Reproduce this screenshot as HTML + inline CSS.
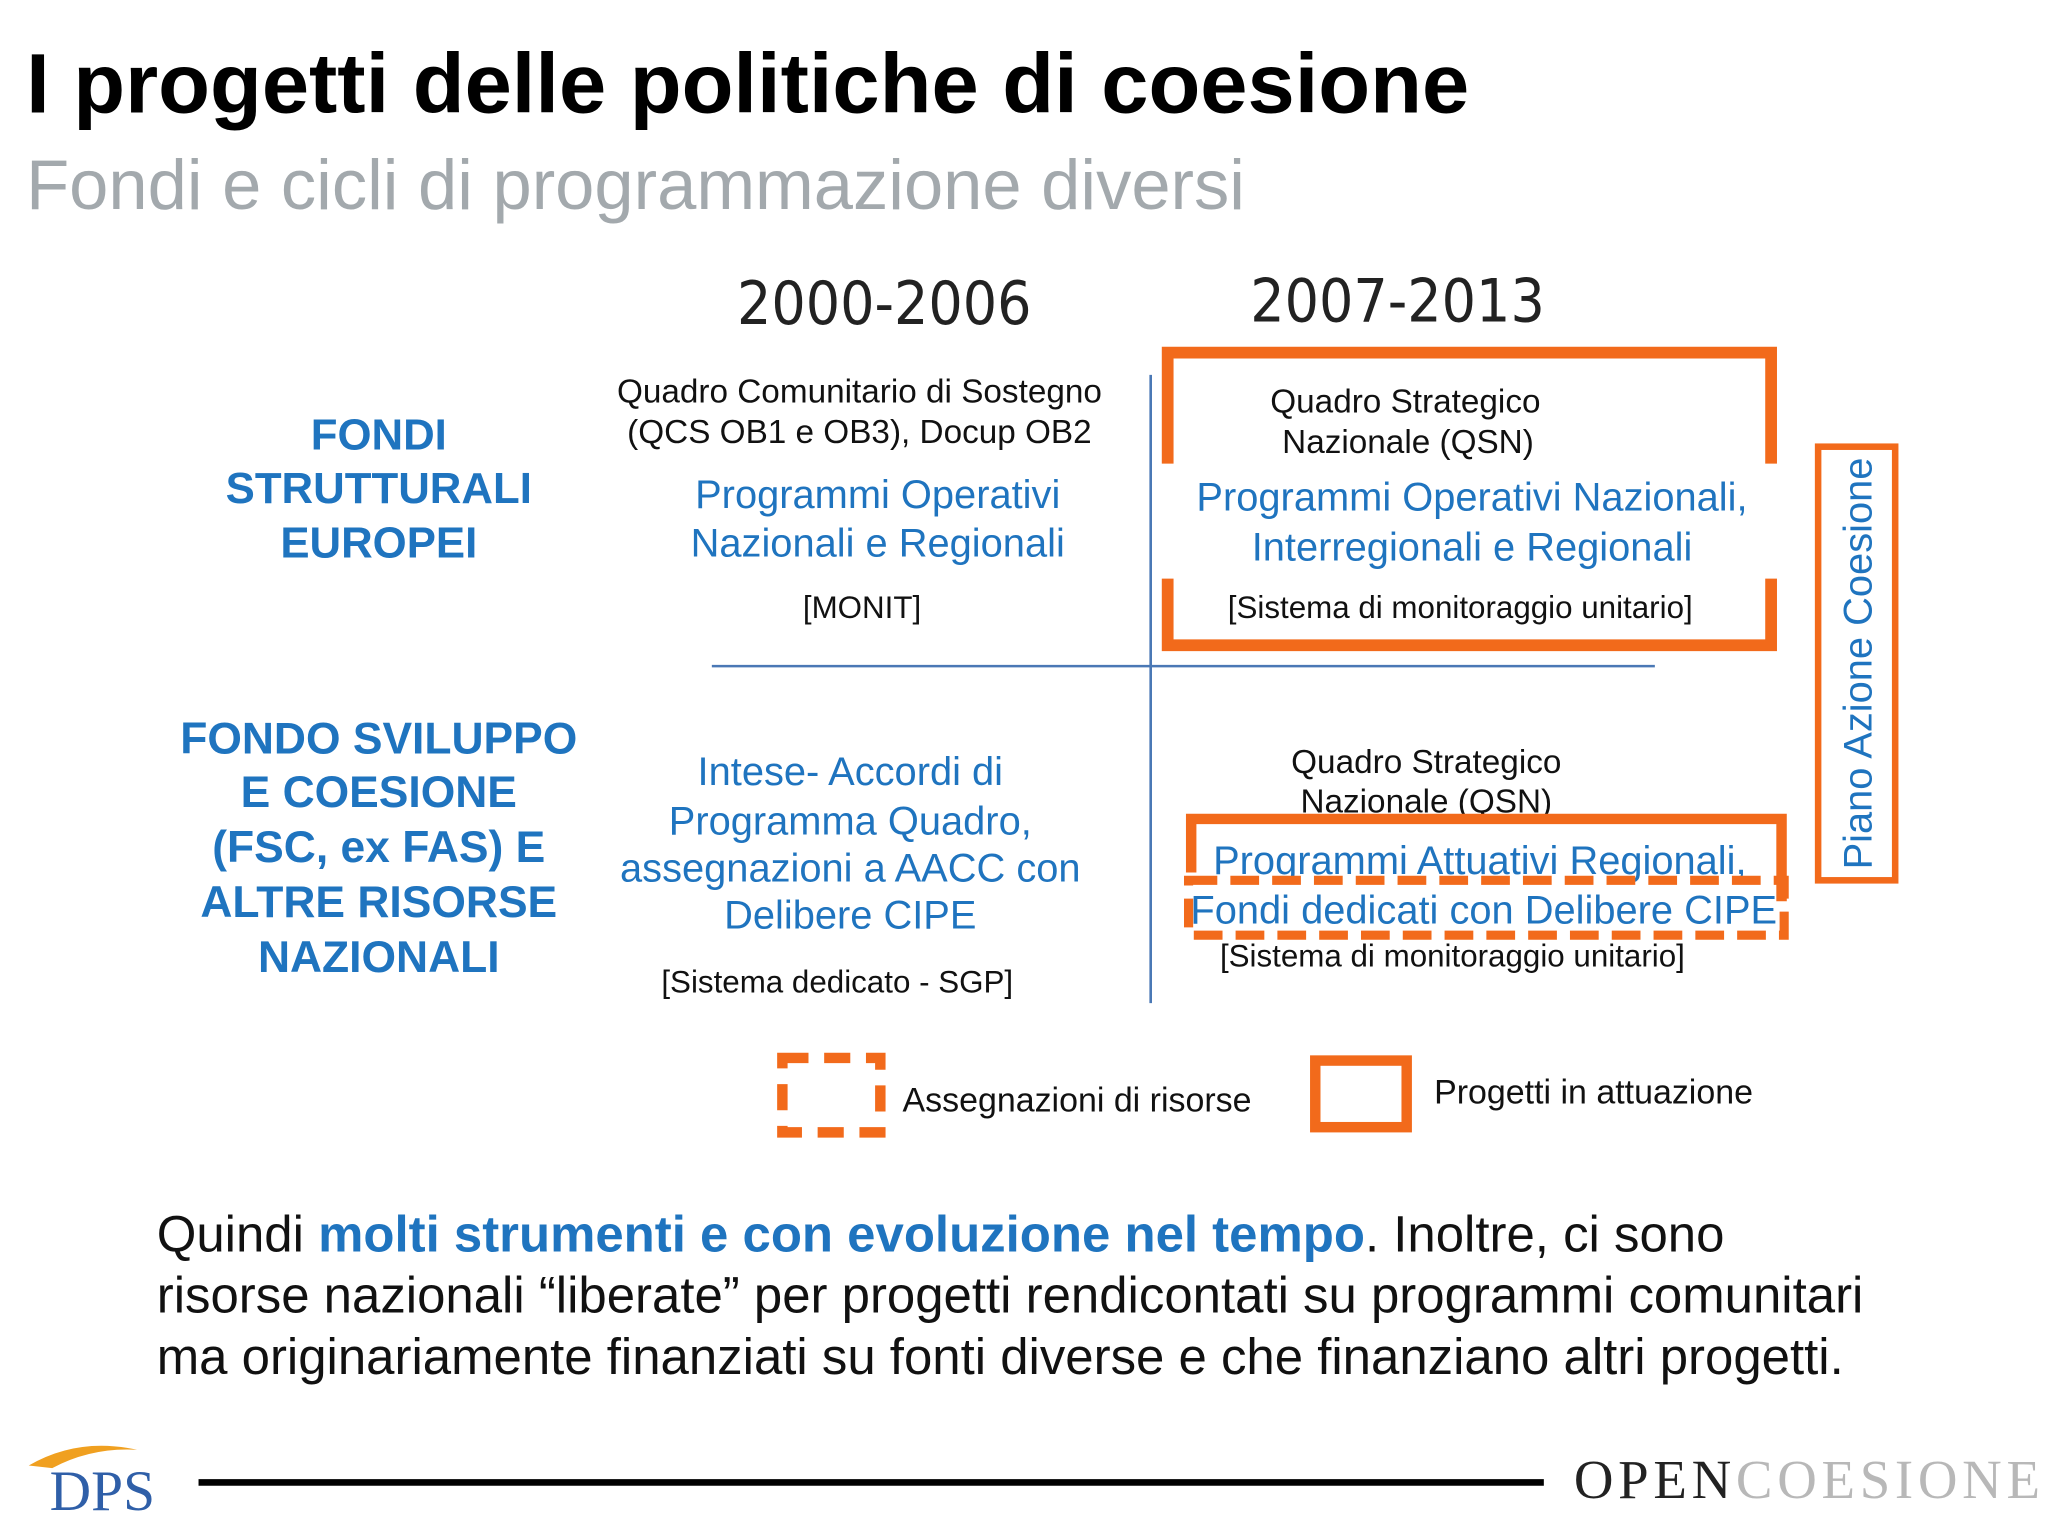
<!DOCTYPE html>
<html><head><meta charset="utf-8"><style>
html,body{margin:0;padding:0;background:#fff;}
svg{display:block;font-family:"Liberation Sans",sans-serif;}
</style></head><body>
<svg width="2048" height="1536" viewBox="0 0 1568 1176">
<text x="20" y="86" font-size="65" font-weight="bold" fill="#000">I progetti delle politiche di coesione</text>
<text x="20" y="160" font-size="54" fill="#a3a9ad">Fondi e cicli di programmazione diversi</text>

<g font-family="DejaVu Sans Condensed, DejaVu Sans, sans-serif" font-size="46" fill="#222" text-anchor="middle">
<text x="677" y="248">2000-2006</text>
<text x="1070" y="246">2007-2013</text>
</g>

<g font-size="33.5" font-weight="bold" fill="#1f74bf" text-anchor="middle">
<text x="290" y="344">FONDI</text><text x="290" y="385">STRUTTURALI</text><text x="290" y="427">EUROPEI</text>
</g>
<g font-size="34" font-weight="bold" fill="#1f74bf" text-anchor="middle">
<text x="290" y="577">FONDO SVILUPPO</text><text x="290" y="618">E COESIONE</text><text x="290" y="660">(FSC, ex FAS) E</text><text x="290" y="702">ALTRE RISORSE</text><text x="290" y="744">NAZIONALI</text>
</g>

<line x1="881" y1="287" x2="881" y2="768" stroke="#4a78b5" stroke-width="2"/>
<line x1="545" y1="510" x2="1267" y2="510" stroke="#4a78b5" stroke-width="2"/>

<g text-anchor="middle">
<text x="658" y="308" font-size="25.5" fill="#111">Quadro Comunitario di Sostegno</text>
<text x="658" y="339" font-size="25.5" fill="#111">(QCS OB1 e OB3), Docup OB2</text>
<text x="672" y="389" font-size="30.5" fill="#1f74bf">Programmi Operativi</text>
<text x="672" y="426" font-size="30.5" fill="#1f74bf">Nazionali e Regionali</text>
<text x="660" y="473" font-size="24" fill="#111">[MONIT]</text>
</g>
<g text-anchor="middle">
<text x="1076" y="316" font-size="25.5" fill="#111">Quadro Strategico</text>
<text x="1078" y="347" font-size="25.5" fill="#111">Nazionale (QSN)</text>
<text x="1127" y="391" font-size="30.5" fill="#1f74bf">Programmi Operativi Nazionali,</text>
<text x="1127" y="429" font-size="30.5" fill="#1f74bf">Interregionali e Regionali</text>
<text x="1118" y="473" font-size="24" fill="#111">[Sistema di monitoraggio unitario]</text>
</g>
<path d="M894 355 V270 H1356 V355 M894 443 V494 H1356 V443" fill="none" stroke="#f26a1b" stroke-width="9"/>

<g text-anchor="middle">
<text x="651" y="601" font-size="30.5" fill="#1f74bf">Intese- Accordi di</text>
<text x="651" y="639" font-size="30.5" fill="#1f74bf">Programma Quadro,</text>
<text x="651" y="675" font-size="30.5" fill="#1f74bf">assegnazioni a AACC con</text>
<text x="651" y="711" font-size="30.5" fill="#1f74bf">Delibere CIPE</text>
<text x="641" y="760" font-size="24" fill="#111">[Sistema dedicato - SGP]</text>
</g>
<g text-anchor="middle">
<text x="1092" y="592" font-size="25.5" fill="#111">Quadro Strategico</text>
<text x="1092" y="622" font-size="25.5" fill="#111">Nazionale (QSN)</text>
<rect x="905" y="624" width="466" height="10" fill="#fff"/>
<text x="1133" y="669" font-size="30.5" fill="#1f74bf">Programmi Attuativi Regionali,</text>
<text x="1136" y="707" font-size="30.5" fill="#1f74bf">Fondi dedicati con Delibere CIPE</text>
<text x="1112" y="740" font-size="24" fill="#111">[Sistema di monitoraggio unitario]</text>
</g>
<path d="M912 668 V627 H1364 V690" fill="none" stroke="#f26a1b" stroke-width="8"/>
<path d="M910 674 H1366 V716 H910 Z" fill="none" stroke="#f26a1b" stroke-width="7" stroke-dasharray="22 10"/>

<rect x="1392" y="342" width="59" height="332" fill="none" stroke="#f26a1b" stroke-width="5"/>
<text transform="translate(1433 508) rotate(-90)" text-anchor="middle" font-size="30.5" fill="#1f74bf">Piano Azione Coesione</text>

<rect x="599" y="810" width="75" height="57" fill="none" stroke="#f26a1b" stroke-width="8" stroke-dasharray="20 12"/>
<text x="691" y="851" font-size="26" fill="#111">Assegnazioni di risorse</text>
<rect x="1007" y="812" width="70" height="51" fill="none" stroke="#f26a1b" stroke-width="8"/>
<text x="1098" y="845" font-size="26" fill="#111">Progetti in attuazione</text>

<g font-size="39" fill="#111">
<text x="120" y="958">Quindi <tspan fill="#1f74bf" font-weight="bold">molti strumenti e con evoluzione nel tempo</tspan>. Inoltre, ci sono</text>
<text x="120" y="1005">risorse nazionali “liberate” per progetti rendicontati su programmi comunitari</text>
<text x="120" y="1052">ma originariamente finanziati su fonti diverse e che finanziano altri progetti.</text>
</g>

<line x1="152" y1="1135" x2="1182" y2="1135" stroke="#000" stroke-width="5"/>
<g>
<path d="M22 1122 Q60 1100 105 1110 Q70 1108 40 1124 Z" fill="#f0a020"/>
<text x="38" y="1156" font-family="Liberation Serif,serif" font-size="44" fill="#2f5fa8">DPS</text>
</g>
<text x="1205" y="1147" font-family="Liberation Serif,serif" font-size="42" letter-spacing="3.6"><tspan fill="#222">OPEN</tspan><tspan fill="#b8b8b8">COESIONE</tspan></text>
</svg>
</body></html>
